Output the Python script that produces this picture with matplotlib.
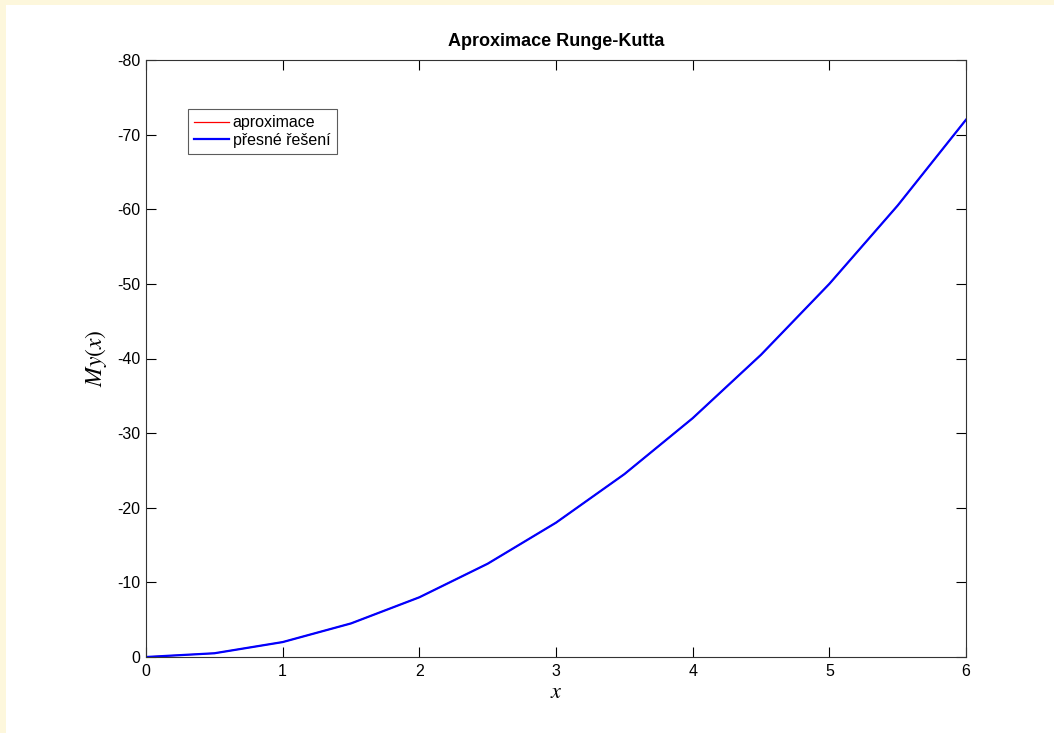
import matplotlib
matplotlib.use("Agg")
import matplotlib.pyplot as plt
from matplotlib.patches import Rectangle

# Runge-Kutta approximation vs exact solution, step 0.5
x = [0, 0.5, 1, 1.5, 2, 2.5, 3, 3.5, 4, 4.5, 5, 5.5, 6]
y_approx = [0, -0.5, -2, -4.5, -8, -12.5, -18, -24.5, -32, -40.5, -50, -60.5, -72]
y_exact = [0, -0.5, -2, -4.5, -8, -12.5, -18, -24.5, -32, -40.5, -50, -60.5, -72]

xticks = [0, 1, 2, 3, 4, 5, 6]
yticks = [0, -10, -20, -30, -40, -50, -60, -70, -80]

plt.rcParams['font.family'] = ['Liberation Sans', 'DejaVu Sans']
plt.rcParams['mathtext.fontset'] = 'stix'
plt.rcParams['axes.unicode_minus'] = False

fig = plt.figure(figsize=(10.54, 7.33), dpi=100, facecolor='white')
# yellow strip on the left and top edge
fig.patches.append(Rectangle((0, 0), 6 / 1054, 1, transform=fig.transFigure,
                             facecolor='#fdf7dc', edgecolor='none', zorder=-10))
fig.patches.append(Rectangle((0, 1 - 5 / 733), 1, 5 / 733, transform=fig.transFigure,
                             facecolor='#fdf7dc', edgecolor='none', zorder=-10))

ax = fig.add_axes([146 / 1054, (733 - 657) / 733, 820 / 1054, 597 / 733])
ax.plot(x, y_approx, color='red', linewidth=0.9, label='aproximace')
ax.plot(x, y_exact, color='blue', linewidth=1.6, label='přesné řešení')

ax.set_xlim(0, 6)
ax.set_ylim(0, -80)
ax.set_xticks(xticks)
ax.set_yticks(yticks)
ax.tick_params(direction='in', length=7, width=0.8, top=True, right=True,
               labelsize=11.5)
ax.tick_params(axis='x', pad=5)
ax.tick_params(axis='y', pad=4)
for s in ax.spines.values():
    s.set_linewidth(0.8)
    s.set_color('#333333')

ax.set_title('Aproximace Runge-Kutta', fontsize=13, fontweight='bold', pad=10)
ax.set_xlabel(r'$x$', fontsize=16, labelpad=2)
ax.set_ylabel(r'$My(x)$', fontsize=17, labelpad=6)

leg = ax.legend(loc='upper left', bbox_to_anchor=(0.051, 0.918), fontsize=11.5,
                frameon=True, fancybox=False, handlelength=2.2, handletextpad=0.2,
                borderpad=0.4, labelspacing=0.15, borderaxespad=0)
leg.get_frame().set_edgecolor('#333333')
leg.get_frame().set_linewidth(0.8)

fig.savefig('out.png', dpi=100)
